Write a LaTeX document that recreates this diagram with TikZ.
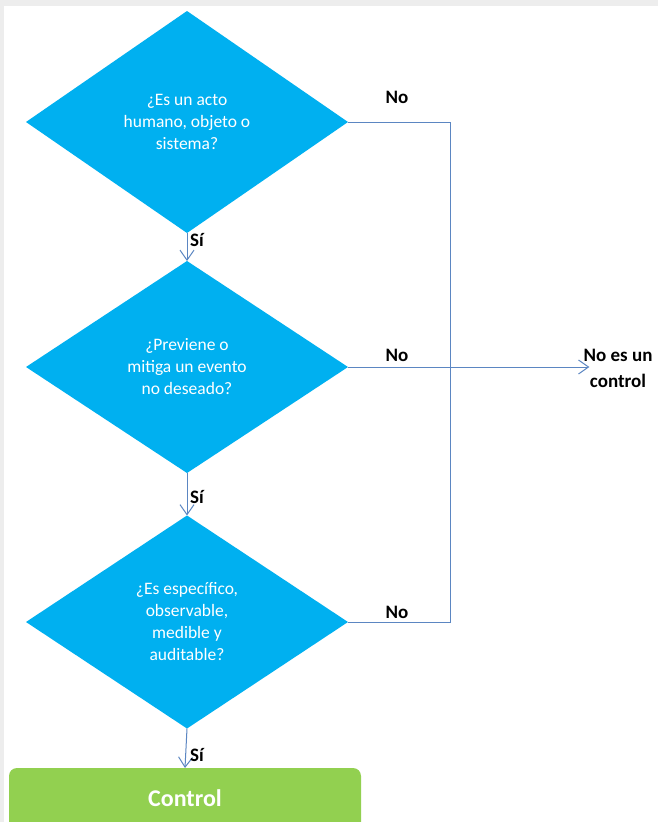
\documentclass[tikz,border=0pt]{standalone}
\usepackage{fontspec}
\setmainfont{Carlito}
\usetikzlibrary{shapes.geometric,arrows.meta}
\definecolor{dcyan}{HTML}{00B0F0}
\definecolor{cgreen}{HTML}{92D050}
\definecolor{lineblue}{HTML}{5B86C2}
\definecolor{framegray}{HTML}{EDEDED}
\begin{document}
\begin{tikzpicture}[x=1pt,y=-1pt,
  decision/.style={diamond, fill=dcyan, draw=none, minimum width=322pt, minimum height=222pt,
    inner sep=0pt, outer sep=0pt, text=white, align=center, font=\fontsize{17.5}{22}\selectfont},
  ctrlbox/.style={rectangle, rounded corners=8pt, fill=cgreen, minimum width=352pt, minimum height=70pt,
    inner sep=0pt, outer sep=0pt, text=white, font=\bfseries\fontsize{24}{28}\selectfont},
  lbl/.style={font=\bfseries\fontsize{19}{26}\selectfont, text=black, inner sep=0pt, align=center},
  conn/.style={draw=lineblue, line width=1pt},
  arr/.style={conn, -{Straight Barb[length=10pt,width=14pt,line width=1pt]}}]
\useasboundingbox (0,0) rectangle (658,822);
\clip (0,0) rectangle (658,822);
\fill[framegray] (0,0) rectangle (658,822);
\fill[white] (4,6) rectangle (658,822);

\node[decision] (d1) at (187,122) {¿Es un acto\\humano, objeto o\\sistema?};
\node[decision, minimum height=212pt] (d2) at (187,367) {¿Previene o\\mitiga un evento\\no deseado?};
\node[decision, minimum height=213pt] (d3) at (187,622) {¿Es específico,\\observable,\\medible y\\auditable?};
\node[ctrlbox] (ctrl) at (185,803) {\raisebox{10pt}{Control}};
\node[lbl] (noctrl) at (618,368) {No es un\\control};

\coordinate (bus1) at (450,122);
\coordinate (bus3) at (450,622);

\draw[arr] (d1.south) -- (d2.north);
\draw[arr] (d2.south) -- (d3.north);
\draw[arr] (d3.south) -- (ctrl.north);
\draw[conn] (d1.east) -- (bus1) -- (bus3) -- (d3.east);
\draw[arr] (d2.east) -- ([xshift=6pt]noctrl.west |- d2.east);

\node[lbl] (no1) at (397,97) {No};
\node[lbl] (no2) at (397,355) {No};
\node[lbl] (no3) at (397,612) {No};
\node[lbl, anchor=west] (si1) at (190,240) {Sí};
\node[lbl, anchor=west] (si2) at (190,497) {Sí};
\node[lbl, anchor=west] (si3) at (190,755) {Sí};
\end{tikzpicture}
\end{document}
